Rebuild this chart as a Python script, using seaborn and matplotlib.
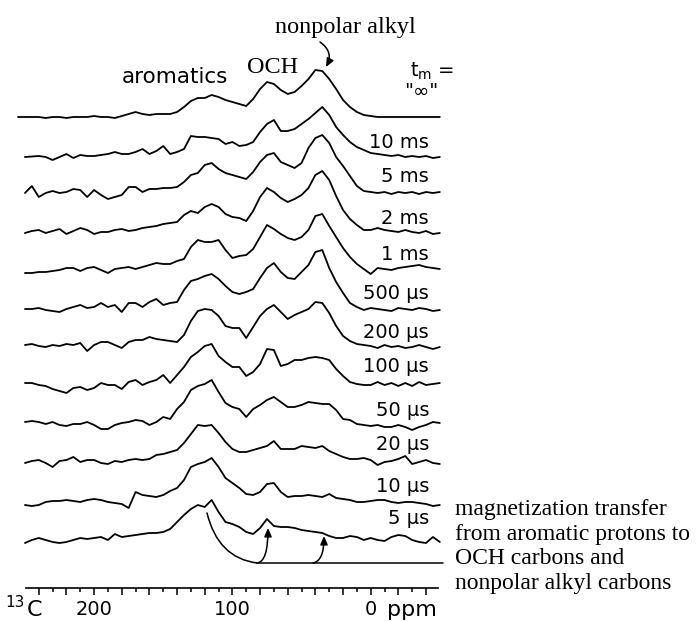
import numpy as np
import pandas as pd
import matplotlib
matplotlib.use("Agg")
import matplotlib.pyplot as plt
import seaborn as sns
from matplotlib.path import Path
from matplotlib.patches import FancyArrowPatch

nan = np.nan

ppm = np.arange(255, -51, -5)

mix_times = ['"∞"', "10 ms", "5 ms", "2 ms", "1 ms", "500 µs", "200 µs",
             "100 µs", "50 µs", "20 µs", "10 µs", "5 µs"]

# signal heights (arbitrary units) from 255 ppm down to -50 ppm
s_inf = [0, 0, 0, 0, -1, 0, 0, -1, 0, 0,
         0, 1, 0, 0, -1, 1, 3, 5, 3, 2,
         3, 3, 3, 5, 10, 16, 19, 19, 22, 20,
         17, 15, 13, 11, 18, 28, 35, 33, 27, 23,
         25, 31, 38, 47, 46, 38, 28, 17, 10, 5,
         2, 1, 0, 0, 0, 0, 0, 0, 0, 0, 0, 0]
s_10ms = [nan, 0, 0.5, 1, 0, -3, 0, 3, -1, 2,
          1, 1, 2, 3, 5, 3, 3, 5, 8, 3,
          6, 11, 3, 5, 8, 21, 20, 20, 19, 18,
          13, 15, 11, 12, 15, 25, 33, 37, 26, 26,
          28, 33, 38, 44, 50, 42, 30, 22, 15, 10,
          7, 4, 3, 2, 1, 2, 0, 1, 0, 1, -1, 0]
s_5ms = [nan, 0, 7, -4, 0, 2, 0, 1, 4, 3,
         -4, 3, -2, -6, -4, -2, 6, 6, 1, 4,
         4, 5, 5, 6, 11, 18, 20, 28, 30, 24,
         20, 18, 16, 14, 21, 31, 38, 40, 31, 28,
         25, 30, 45, 55, 58, 50, 36, 27, 17, 7,
         2, 1, 0, 1, -1, 1, 0, 1, -1, 1, 0, 1]
s_2ms = [nan, 0, 2, 3, 0, 2, 4, -1, 2, 5,
         3, -1, 1, 1, 3, 4, 2, 3, 5, 6,
         7, 9, 10, 11, 18, 22, 20, 26, 29, 26,
         19, 16, 15, 12, 22, 36, 45, 41, 35, 31,
         34, 38, 45, 58, 62, 53, 37, 23, 14, 8,
         3, 3, 5, 3, 2, 1, 3, 1, 0, 2, -1, 0]
s_1ms = [nan, -3, -3, -2, -2, -1, 0, 2, 2, -1,
         2, 3, 0, -3, 1, 2, 3, 1, 3, 5,
         7, 6, 6, 9, 11, 23, 30, 28, 28, 30,
         20, 12, 14, 15, 21, 33, 45, 41, 36, 32,
         30, 33, 40, 54, 56, 44, 33, 22, 13, 6,
         1, -4, 2, 1, 0, 2, 3, 4, 5, 3, 2, 1]
s_500us = [nan, 1, 1, 2, 0, -1, -2, 1, 3, 5,
           2, 3, 7, 3, 5, -2, 7, 7, 3, 8,
           11, 5, 7, 8, 20, 29, 31, 34, 36, 31,
           24, 18, 16, 18, 21, 32, 42, 47, 38, 32,
           31, 38, 45, 58, 60, 42, 28, 17, 7, 3,
           0, 2, 1, 0, -1, 2, 1, 0, 2, 1, -1, 0]
s_200us = [nan, 1, 2, 0, -1, 1, 0, 2, 1, 3,
           -5, 1, 4, 4, 1, -2, 4, 6, 6, 9,
           7, 6, 5, 4, 11, 25, 35, 37, 36, 30,
           20, 18, 18, 8, 19, 30, 37, 41, 34, 27,
           31, 34, 37, 44, 43, 33, 20, 10, 5, 2,
           1, 0, -2, 1, -1, 0, -2, -1, 1, -1, -3, -1]
s_100us = [nan, 1, 1, -1, -2, -5, -7, -9, -4, -3,
           -6, -4, 1, -1, -1, -5, 2, 4, -1, 2,
           4, 9, 1, 9, 17, 27, 32, 38, 40, 28,
           22, 17, 17, 8, 12, 20, 35, 34, 18, 20,
           24, 24, 26, 27, 26, 24, 15, 8, 2, 0,
           -1, -1, 2, -1, 1, -2, 1, -2, 2, -1, 0, 1]
s_50us = [nan, 0, 1, 0, -2, 0, -3, -4, -2, -2,
          0, -3, -7, -7, -3, -1, 0, 2, 1, -3,
          0, 5, 3, 13, 20, 32, 36, 38, 42, 30,
          19, 15, 13, 5, 13, 17, 22, 25, 20, 15,
          15, 17, 20, 19, 18, 18, 12, 3, 2, -2,
          -3, -4, -3, -5, -5, -3, -5, -8, -5, -3, 0, -1]
s_20us = [nan, -1, 1, 2, -1, -5, 1, 2, 5, 0,
          2, 2, -1, -2, 1, 0, 2, 3, 2, 3,
          7, 8, 10, 12, 19, 28, 37, 36, 37, 29,
          20, 13, 10, 10, 12, 14, 16, 21, 13, 13,
          13, 16, 15, 14, 16, 11, 8, 5, 3, 3,
          4, 2, -3, 0, 1, 3, 6, -2, 0, 2, -1, -2]
s_10us = [nan, 0, -1, 0, 3, 4, 4, 5, 4, 3,
          5, 6, 5, 3, 2, 1, -3, 13, 10, 9,
          8, 10, 14, 17, 25, 38, 41, 43, 47, 38,
          27, 22, 17, 11, 10, 13, 21, 22, 13, 8,
          9, 9, 10, 9, 8, 11, 7, 6, 5, 3,
          3, 4, 5, 5, 3, 2, 3, 3, 2, 1, -1, 0]
s_5us = [nan, -3, 0, 2, 0, -2, -3, -2, 0, 2,
         1, 2, 3, 0, 6, 3, 4, 5, 6, 7,
         7, 8, 11, 18, 25, 31, 35, 33, 40, 28,
         18, 16, 13, 8, 6, 12, 21, 14, 13, 13,
         12, 10, 9, 8, 7, 4, 2, 2, 4, 3,
         0, 2, 0, -1, 3, 5, 4, 0, -2, -3, 3, -2]

spectra = [s_inf, s_10ms, s_5ms, s_2ms, s_1ms, s_500us, s_200us,
           s_100us, s_50us, s_20us, s_10us, s_5us]

# layout (pixels of the 700x622 canvas)
W, H = 700, 622
X0, PX_PER_PPM = 370.7, 1.383          # x pixel of 0 ppm, pixels per ppm
baselines = [117, 157, 193, 233, 270, 310, 346, 384, 422, 462, 505, 540]
label_y = [143, 177, 218, 255, 293, 332, 367, 410, 445, 487, 519]


def to_ppm(x):
    return (X0 - x) / PX_PER_PPM


def fxy(x, y):
    return x / W, 1 - y / H


rows = []
for name, base, vals in zip(mix_times, baselines, spectra):
    for p, v in zip(ppm, vals):
        rows.append({"trace": name, "ppm": p, "ypos": base - v})
df = pd.DataFrame(rows).dropna()

sns.set_theme(style="white", rc={"text.color": "black", "axes.edgecolor": "black",
                                 "xtick.color": "black"})
plt.rcParams["font.family"] = ["DejaVu Sans"]

fig = plt.figure(figsize=(W / 100, H / 100), dpi=100)
ax = fig.add_axes([0, 0, 1, 1])
sns.lineplot(data=df, x="ppm", y="ypos", units="trace", estimator=None, sort=False,
             color="black", linewidth=1.3, legend=False, ax=ax,
             solid_joinstyle="round")
ax.set_xlim(to_ppm(0), to_ppm(W))
ax.set_ylim(H, 0)
ax.axis("off")

# ppm scale at the bottom
ax2 = fig.add_axes([26 / W, (H - 588) / H, 412 / W, 1 / H])
ax2.set_facecolor("none")
for s in ["top", "left", "right"]:
    ax2.spines[s].set_visible(False)
ax2.spines["bottom"].set_linewidth(1.2)
ax2.set_yticks([])
ax2.set_xlim(to_ppm(26), to_ppm(438))
major = np.arange(240, -41, -20)
ax2.set_xticks(major)
ax2.set_xticklabels([str(t) if t in (200, 100, 0) else "" for t in major])
ax2.set_xticks(np.arange(230, -31, -20), minor=True)
ax2.tick_params(axis="x", which="both", bottom=True, direction="out", width=1.1)
ax2.tick_params(axis="x", which="major", length=5, labelsize=14, pad=3.5)
ax2.tick_params(axis="x", which="minor", length=3)

fig.text(*fxy(5, 607), "13", fontsize=11, ha="left", va="baseline")
fig.text(*fxy(27, 616), "C", fontsize=16, ha="left", va="baseline")
fig.text(*fxy(387, 616), "ppm", fontsize=16, ha="left", va="baseline")

# peak labels
serif = "Liberation Serif"
fig.text(*fxy(122, 83), "aromatics", fontsize=15.5, ha="left", va="baseline")
fig.text(*fxy(247, 73), "OCH", fontsize=17.5, family=serif, ha="left", va="baseline")
fig.text(*fxy(275, 33), "nonpolar alkyl", fontsize=17.5, family=serif,
         ha="left", va="baseline")
fig.text(*fxy(410, 77), r"t$_\mathregular{m}$ =", fontsize=14, ha="left", va="baseline")
fig.text(*fxy(421, 97), '"∞"', fontsize=14, ha="center", va="baseline")

for name, y in zip(mix_times[1:], label_y):
    fig.text(*fxy(429, y), name, fontsize=14, ha="right", va="center")

note = ["magnetization transfer", "from aromatic protons to",
        "OCH carbons and", "nonpolar alkyl carbons"]
for k, line in enumerate(note):
    fig.text(*fxy(455, 515 + 24.7 * k), line, fontsize=17, family=serif,
             ha="left", va="baseline")


def curve(pts, head):
    verts = [(to_ppm(x), y) for x, y in pts]
    path = Path(verts, [Path.MOVETO, Path.CURVE3, Path.CURVE3])
    style = "-|>,head_length=0.5,head_width=0.22" if head else "-"
    ax.add_patch(FancyArrowPatch(path=path, arrowstyle=style, mutation_scale=10,
                                 color="black", lw=1.1))


curve([(320, 42), (334, 52), (326, 67)], True)
curve([(207, 513), (218, 558), (257, 563)], False)
ax.plot([to_ppm(257), to_ppm(443)], [563, 563], color="black", lw=1.1)
curve([(257, 563), (268, 562), (268, 528)], True)
curve([(313, 563), (324, 561), (324, 536)], True)

fig.savefig("out.png", dpi=100)
